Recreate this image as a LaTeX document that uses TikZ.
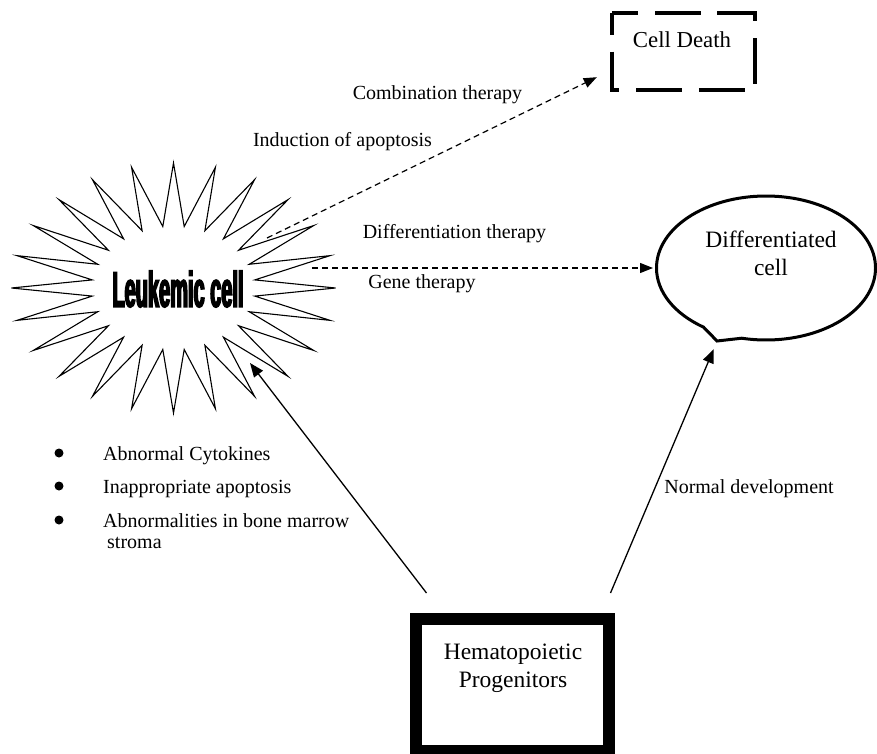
\documentclass[tikz,border=0pt]{standalone}
\usepackage{fontspec}
\setmainfont{Liberation Serif}
\newfontfamily\leukfont[FakeStretch=0.4,FakeBold=3]{Liberation Sans Bold}
\usepackage{tikz}
\usetikzlibrary{positioning,arrows.meta,shapes.geometric,shapes.callouts}

\tikzset{
    lbl/.style={font=\fontsize{20}{24}\selectfont, inner sep=0pt},
    bigtxt/.style={font=\fontsize{23.5}{28}\selectfont, align=center, inner sep=0pt},
    leuktext/.style={font=\leukfont\fontsize{50}{54}\selectfont, inner sep=0pt},
    starline/.style={line width=1.1pt, line join=miter},
    dasharrow/.style={line width=1.2pt, dash pattern=on 6pt off 4pt,
        -{Triangle[length=13pt,width=10pt]}},
    solidarrow/.style={line width=1.3pt, -{Triangle[length=14pt,width=11pt]}},
    deathbox/.style={rectangle, minimum width=143pt, minimum height=77pt, inner sep=0pt},
    deathframe/.style={line width=4pt, dash pattern=on 46pt off 16.8pt, dash phase=24pt},
    diffcell/.style={ellipse callout, draw, line width=3pt, minimum width=219pt,
        minimum height=144pt, inner sep=0pt, callout pointer arc=22},
    hemabox/.style={rectangle, draw, line width=12pt, minimum width=193pt,
        minimum height=132pt, inner sep=0pt}
}

\begin{document}
\begin{tikzpicture}[x=1pt,y=-1pt]
    \useasboundingbox (0,0) rectangle (877,754);

    % Leukemic cell (star)
    \node[leuktext] (leuk) at (178,289) {Leukemic cell};
    \draw[starline] (335.5,288) \foreach \a in {0,15,...,345}{
        -- ({173.5+82*cos(\a+7.5)},{288+62*sin(\a+7.5)})
        -- ({173.5+162*cos(\a+15)},{288+125*sin(\a+15)}) } -- cycle;
    \coordinate (leukNE) at (267,238);
    \coordinate (leukE) at (312,268);
    \coordinate (leukSE) at (250,363);

    % Outcomes
    \node[deathbox] (death) at (683.5,51.5) {};
    \draw[deathframe] (death.north west) rectangle (death.south east);
    \node[bigtxt, font=\fontsize{22.8}{27}\selectfont] (deathText) at (682,40) {Cell Death};

    \node[diffcell, callout absolute pointer={(717,341)}] (diff) at (766,268) {};
    \node[bigtxt] (diffText) at (771,253) {Differentiated\\cell};

    \node[hemabox] (hema) at (512.5,685) {};
    \node[bigtxt] (hemaText) at (513,668.5) {Hematopoietic\\Progenitors};

    % Therapies
    \draw[dasharrow] (leukNE) -- ([xshift=-15pt,yshift=13pt]death.south west);
    \draw[dasharrow, shorten >=2pt] (leukE) -- (diff.west);
    \node[lbl, anchor=base] (combTxt) at (437.5,100) {Combination therapy};
    \node[lbl, anchor=base] (apopTxt) at (342.5,147) {Induction of apoptosis};
    \node[lbl, anchor=base] (diffTxt) at (454.5,238) {Differentiation therapy};
    \node[lbl, anchor=base] (geneTxt) at (422,288) {Gene therapy};

    % Development
    \draw[solidarrow] ([xshift=16.5pt,yshift=20pt]hema.north west) -- (leukSE);
    \draw[solidarrow, shorten >=7pt] ([xshift=-4.5pt,yshift=20pt]hema.north east) -- (diff.pointer);
    \node[lbl, anchor=base] (normTxt) at (749,493) {Normal development};

    % Causes
    \foreach \y/\txt [count=\i] in {460/{Abnormal Cytokines}, 493/{Inappropriate apoptosis},
        527/{Abnormalities in bone marrow}} {
        \fill (59,\y-7) circle (4.5pt);
        \node[lbl, anchor=base west] (cause\i) at (103,\y) {\txt};
    }
    \node[lbl, anchor=base west] (cause4) at (107,548) {stroma};
\end{tikzpicture}
\end{document}
